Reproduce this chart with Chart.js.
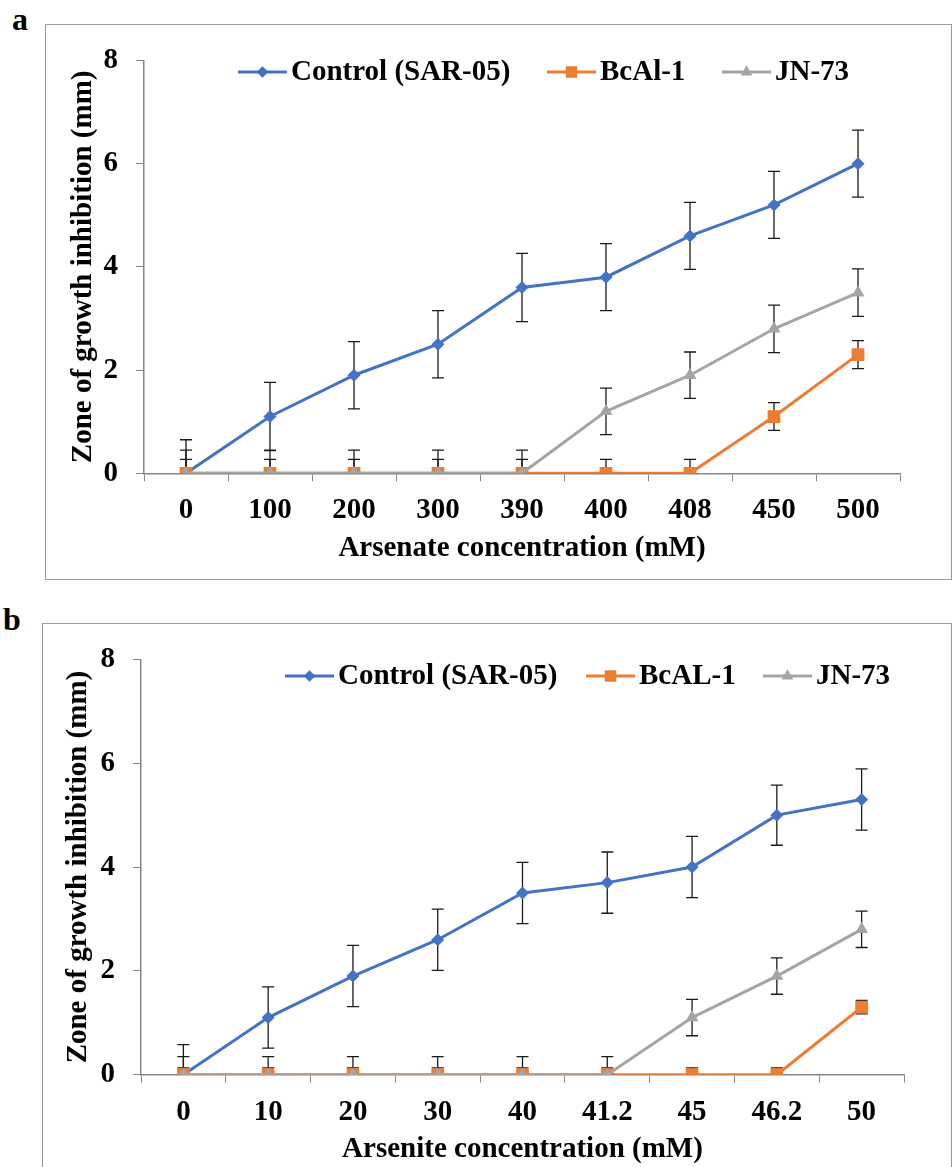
<!DOCTYPE html>
<html>
<head>
<meta charset="utf-8">
<script src="https://cdn.jsdelivr.net/npm/chart.js@4.4.1/dist/chart.umd.min.js"></script>
<style>
  body { margin: 0; background: #fff; width: 952px; height: 1167px; overflow: hidden; position: relative; }
  .panel { position: absolute; border: 1px solid #9a9a9a; box-sizing: border-box; background: #fff; }
  .panel canvas { position: absolute; left: 0; top: 0; }
  .tag { position: absolute; font: bold 32px "Liberation Serif", serif; line-height: 1; }
</style>
</head>
<body>
<div class="tag" style="left:12px;top:3px">a</div>
<div class="panel" style="left:45px;top:24px;width:907px;height:556px">
  <canvas id="chartA" width="905" height="554"></canvas>
</div>
<div class="tag" style="left:3px;top:603px">b</div>
<div class="panel" style="left:42px;top:623px;width:910px;height:570px">
  <canvas id="chartB" width="908" height="568"></canvas>
</div>
<script>
// panel a - arsenate
const arsenateLabels = ["0", "100", "200", "300", "390", "400", "408", "450", "500"];
const controlA = [0, 1.1, 1.9, 2.5, 3.6, 3.8, 4.6, 5.2, 6.0];
const controlAErr = [0.65, 0.66, 0.65, 0.65, 0.66, 0.65, 0.65, 0.65, 0.65];
const bcalA = [0, 0, 0, 0, 0, 0, 0, 1.1, 2.3];
const bcalAErr = [0.27, 0.27, 0.27, 0.27, 0.27, 0.27, 0.27, 0.27, 0.27];
const jnA = [0, 0, 0, 0, 0, 1.2, 1.9, 2.8, 3.5];
const jnAErr = [0.45, 0.45, 0.45, 0.45, 0.45, 0.45, 0.45, 0.46, 0.46];

// panel b - arsenite
const arseniteLabels = ["0", "10", "20", "30", "40", "41.2", "45", "46.2", "50"];
const controlB = [0, 1.1, 1.9, 2.6, 3.5, 3.7, 4.0, 5.0, 5.3];
const controlBErr = [0.58, 0.59, 0.59, 0.59, 0.59, 0.59, 0.59, 0.58, 0.59];
const bcalB = [0, 0, 0, 0, 0, 0, 0, 0, 1.3];
const bcalBErr = [0.13, 0.13, 0.13, 0.13, 0.13, 0.13, 0.13, 0.13, 0.13];
const jnB = [0, 0, 0, 0, 0, 0, 1.1, 1.9, 2.8];
const jnBErr = [0.35, 0.35, 0.35, 0.35, 0.35, 0.35, 0.35, 0.35, 0.35];

const yTicks = [0, 2, 4, 6, 8];

const BLUE = "#4472C4", ORANGE = "#ED7D31", GREY = "#A5A5A5";
const FONT = "Liberation Serif";
const FSIZE = 29;
const AXIS = "#868686";

// whiskers, drawn under the lines and markers
const errorBars = {
  id: "errorBars",
  beforeDatasetsDraw(chart) {
    const ctx = chart.ctx, area = chart.chartArea, ys = chart.scales.y;
    ctx.save();
    ctx.beginPath();
    ctx.rect(area.left, area.top - 30, area.right - area.left, area.bottom - area.top + 30);
    ctx.clip();
    ctx.strokeStyle = "#1a1a1a";
    ctx.lineWidth = 1.3;
    chart.data.datasets.forEach((ds, i) => {
      chart.getDatasetMeta(i).data.forEach((pt, j) => {
        const v = ds.data[j], e = ds.errors[j];
        const top = ys.getPixelForValue(v + e), bot = ys.getPixelForValue(v - e);
        ctx.beginPath();
        ctx.moveTo(pt.x, top); ctx.lineTo(pt.x, bot);
        ctx.moveTo(pt.x - 6, top); ctx.lineTo(pt.x + 6, top);
        ctx.moveTo(pt.x - 6, bot); ctx.lineTo(pt.x + 6, bot);
        ctx.stroke();
      });
    });
    ctx.restore();
  }
};

// excel style legend: short line with the marker in the middle
const lineLegend = {
  id: "lineLegend",
  afterDraw(chart, args, opts) {
    const ctx = chart.ctx;
    ctx.save();
    ctx.font = "bold " + FSIZE + "px '" + FONT + "'";
    ctx.textBaseline = "middle";
    chart.data.datasets.forEach((ds, i) => {
      const x = opts.starts[i], y = opts.y;
      ctx.strokeStyle = ds.borderColor;
      ctx.lineWidth = 3;
      ctx.beginPath();
      ctx.moveTo(x, y);
      ctx.lineTo(x + 49, y);
      ctx.stroke();
      ctx.fillStyle = ds.borderColor;
      Chart.helpers.drawPoint(ctx, { pointStyle: ds.pointStyle, radius: ds.pointRadius * 0.9, borderWidth: 0 }, x + 24.5, y);
      ctx.fillStyle = "#000";
      ctx.fillText(ds.label, x + 53, y + 1);
    });
    ctx.restore();
  }
};

function series(label, data, errors, color, style, radius, order) {
  return {
    label: label,
    data: data,
    errors: errors,
    borderColor: color,
    backgroundColor: color,
    pointBackgroundColor: color,
    pointBorderColor: color,
    pointBorderWidth: 0,
    pointStyle: style,
    pointRadius: radius,
    borderWidth: 3,
    tension: 0,
    order: order
  };
}

function makeChart(id, labels, sets, xTitle, lay) {
  const font = { family: FONT, size: FSIZE, weight: "bold" };
  new Chart(document.getElementById(id), {
    type: "line",
    data: { labels: labels, datasets: sets },
    options: {
      responsive: false,
      animation: false,
      layout: { padding: { left: 0, right: lay.right, top: lay.top, bottom: 0 } },
      plugins: {
        legend: { display: false },
        tooltip: { enabled: false },
        lineLegend: { starts: lay.legendStarts, y: lay.legendY }
      },
      scales: {
        x: {
          type: "category",
          offset: true,
          afterFit(scale) { scale.height = lay.xHeight; },
          grid: { offset: true, drawOnChartArea: false, drawTicks: true, tickLength: 8, color: AXIS, lineWidth: 1 },
          border: { color: AXIS, width: 1.5 },
          ticks: { color: "#000", padding: 12, font: font },
          title: {
            display: true, text: xTitle, color: "#000", font: font,
            padding: { top: 0, bottom: lay.xTitlePad }
          }
        },
        y: {
          min: 0, max: 8,
          afterFit(scale) { scale.width = 98; },
          afterBuildTicks(scale) { scale.ticks = yTicks.map(v => ({ value: v })); },
          grid: { drawOnChartArea: false, drawTicks: true, tickLength: 8, color: AXIS, lineWidth: 1 },
          border: { color: AXIS, width: 1.5 },
          ticks: { color: "#000", padding: 18, font: font },
          title: {
            display: true, text: "Zone of growth inhibition (mm)", color: "#000", font: font,
            padding: { top: lay.yTitlePad, bottom: 0 }
          }
        }
      }
    },
    plugins: [errorBars, lineLegend]
  });
}

makeChart("chartA", arsenateLabels, [
  series("Control (SAR-05)", controlA, controlAErr, BLUE, "rectRot", 6.5, 3),
  series("BcAl-1", bcalA, bcalAErr, ORANGE, "rect", 9, 2),
  series("JN-73", jnA, jnAErr, GREY, "triangle", 7.5, 1)
], "Arsenate concentration (mM)", {
  right: 51, top: 27.7, xHeight: 105.7, xTitlePad: 12.6, yTitlePad: 20.6,
  legendStarts: [192, 501, 676], legendY: 47
});

makeChart("chartB", arseniteLabels, [
  series("Control (SAR-05)", controlB, controlBErr, BLUE, "rectRot", 6.5, 3),
  series("BcAL-1", bcalB, bcalBErr, ORANGE, "rect", 9, 2),
  series("JN-73", jnB, jnBErr, GREY, "triangle", 7.5, 1)
], "Arsenite concentration (mM)", {
  right: 47, top: 26, xHeight: 117.3, xTitlePad: 24.6, yTitlePad: 18.6,
  legendStarts: [242, 543, 720], legendY: 52
});
</script>
</body>
</html>
